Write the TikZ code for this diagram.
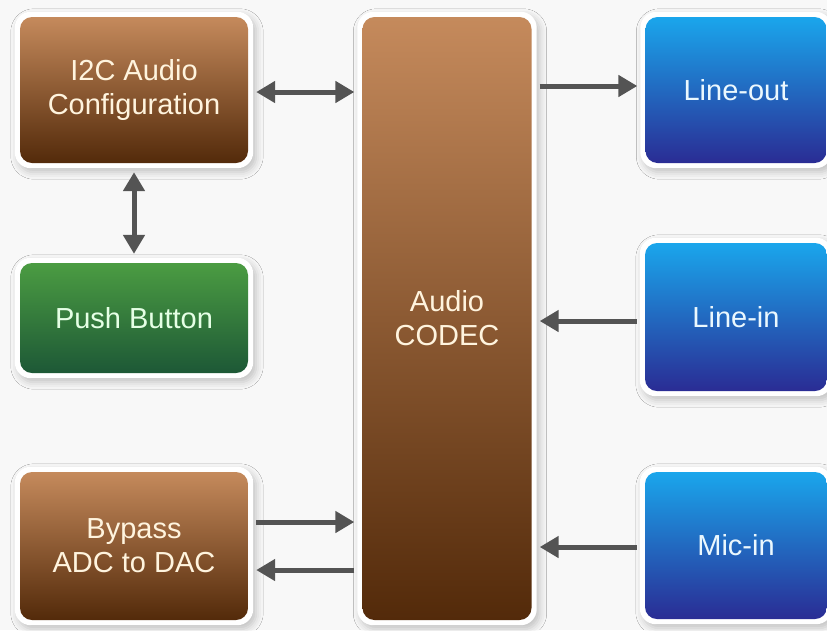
\documentclass[tikz,border=0pt]{standalone}
\usepackage{fontspec}
\setmainfont{Liberation Sans}
\usetikzlibrary{arrows.meta,shadows.blur,fit,backgrounds}
\definecolor{brtop}{HTML}{C58A5C}
\definecolor{brbot}{HTML}{532A0A}
\definecolor{grtop}{HTML}{4B9C42}
\definecolor{grbot}{HTML}{1D5836}
\definecolor{bltop}{HTML}{1AA6EC}
\definecolor{blbot}{HTML}{2A2C94}
\definecolor{arrgray}{HTML}{545454}
\definecolor{txt}{HTML}{FFF4DE}
\definecolor{bgc}{HTML}{F8F8F8}
\tikzset{
  blk/.style={rounded corners=12pt, inner sep=0pt, align=center, text=txt,
    font=\fontsize{29}{34}\selectfont},
  brown/.style={blk, top color=brtop, bottom color=brbot},
  green/.style={blk, top color=grtop, bottom color=grbot, text=white!90!green},
  blue/.style={blk, top color=bltop, bottom color=blbot, text=white!92!cyan},
  frame/.style={rounded corners=16pt, fill=white, inner sep=5pt, outer sep=0pt,
    blur shadow={shadow xshift=3pt, shadow yshift=-4pt, shadow blur radius=7pt, shadow opacity=22}},
  arr/.style={draw=arrgray, line width=5pt, -{Triangle[length=19pt,width=21pt]}},
  darr/.style={draw=arrgray, line width=5pt, {Triangle[length=19pt,width=21pt]}-{Triangle[length=19pt,width=21pt]}},
}
\begin{document}
\begin{tikzpicture}[x=1pt,y=-1pt]
\useasboundingbox (0,0) rectangle (827,630);
% boxes
\node[brown, minimum width=228pt, minimum height=146pt] (i2c) at (134,90) {I2C Audio\\Configuration};
\node[green, minimum width=228pt, minimum height=110pt] (push) at (134,318) {Push Button};
\node[brown, minimum width=228pt, minimum height=148pt] (bypass) at (134,546) {Bypass\\ADC to DAC};
\node[brown, minimum width=169pt, minimum height=603pt] (codec) at (447,318.5) {Audio\\CODEC};
\node[blue, minimum width=181pt, minimum height=146pt] (lout) at (736,90) {Line-out};
\node[blue, minimum width=182pt, minimum height=148pt] (lin) at (736,317) {Line-in};
\node[blue, minimum width=182pt, minimum height=147pt] (mic) at (736,545.5) {Mic-in};
% background and white frames with shadows
\begin{scope}[on background layer]
\fill[bgc] (0,0) rectangle (827,630);
\node[frame, fit=(i2c)] (fi2c) {};
\node[frame, fit=(push)] (fpush) {};
\node[frame, fit=(bypass)] (fbypass) {};
\node[frame, fit=(codec)] (fcodec) {};
\node[frame, fit=(lout)] (flout) {};
\node[frame, fit=(lin)] (flin) {};
\node[frame, fit=(mic)] (fmic) {};
\end{scope}
% connectors
\draw[darr] ([xshift=8pt,yshift=-2pt]i2c.east) -- ([xshift=-8pt,yshift=-2pt]codec.west |- i2c.east);
\draw[darr] ([yshift=-9pt]i2c.south) -- ([yshift=9pt]push.north);
\draw[arr] ([xshift=8pt,yshift=4pt]codec.east |- lout.west) -- ([xshift=-8pt,yshift=4pt]lout.west);
\draw[arr] ([xshift=-8pt,yshift=-4pt]lin.west) -- ([xshift=8pt,yshift=-4pt]codec.east |- lin.west);
\draw[arr] ([xshift=-8pt,yshift=-1.5pt]mic.west) -- ([xshift=8pt,yshift=-1.5pt]codec.east |- mic.west);
\draw[arr] ([xshift=8pt,yshift=24pt]bypass.east) -- ([xshift=-8pt,yshift=24pt]codec.west |- bypass.east);
\draw[arr] ([xshift=-8pt,yshift=-24pt]codec.west |- bypass.east) -- ([xshift=8pt,yshift=-24pt]bypass.east);
\end{tikzpicture}
\end{document}
